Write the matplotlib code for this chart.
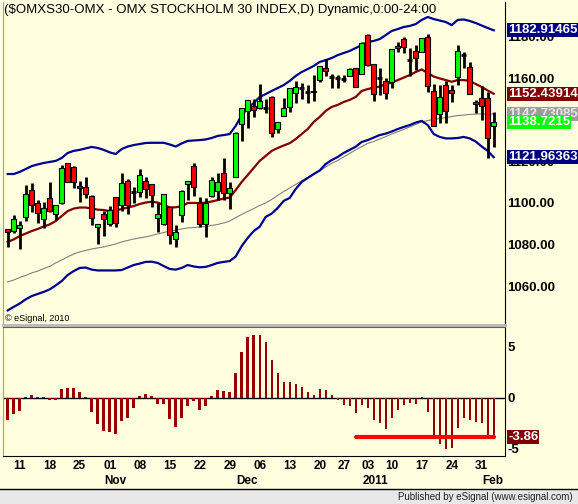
"""
OMXS30 günlük mum grafiği + Bollinger bantları + alt osilatör paneli (eSignal görünümü).
"""

import matplotlib

matplotlib.use("Agg")
import matplotlib.pyplot as plt
import matplotlib.transforms as mtransforms
from matplotlib.patches import Rectangle
import numpy as np

plt.rcParams["font.family"] = ["Liberation Sans", "DejaVu Sans"]

TITLE = "($OMXS30-OMX - OMX STOCKHOLM 30 INDEX,D) Dynamic,0:00-24:00"

# günlük barlar: 7 Eki 2010 - 2 Şub 2011
opens = [1087.3, 1086.7, 1088.0, 1093.4, 1106.2, 1099.9, 1092.2, 1102.3, 1094.7, 1100.2,
         1119.0, 1117.4, 1108.2, 1107.5, 1103.4, 1088.5, 1094.7, 1090.0, 1102.8, 1099.0,
         1110.6, 1105.4, 1105.4, 1110.7, 1109.1, 1093.0, 1089.9, 1097.9, 1082.7, 1094.2,
         1109.1, 1117.8, 1100.1, 1089.9, 1103.4, 1105.9, 1114.5, 1104.9, 1112.6, 1137.9,
         1144.3, 1146.7, 1145.5, 1145.5, 1150.7, 1135.4, 1141.8, 1146.2, 1152.7, 1155.0,
         1153.4, 1153.1, 1159.0, 1164.7, 1160.6, 1159.9, 1159.4, 1161.1, 1164.7, 1161.9,
         1180.6, 1166.6, 1159.9, 1158.6, 1158.2, 1175.5, 1178.7, 1168.6, 1173.1, 1172.6,
         1179.5, 1153.9, 1142.7, 1156.6, 1154.2, 1160.6, 1171.0, 1165.1, 1148.6, 1150.3,
         1150.3, 1137.0]
highs = [1087.5, 1094.2, 1091.5, 1108.6, 1109.5, 1101.5, 1100.6, 1109.9, 1098.9, 1118.2,
         1119.2, 1117.6, 1110.7, 1112.3, 1103.6, 1089.9, 1096.2, 1098.6, 1103.0, 1114.2,
         1111.4, 1107.8, 1116.2, 1112.3, 1109.3, 1099.9, 1104.5, 1098.1, 1089.5, 1106.0,
         1110.5, 1119.4, 1103.1, 1102.3, 1112.3, 1114.5, 1121.4, 1110.2, 1133.9, 1145.6,
         1149.6, 1149.9, 1157.0, 1149.8, 1151.4, 1138.8, 1150.2, 1155.4, 1158.7, 1157.7,
         1156.6, 1161.5, 1165.9, 1169.0, 1161.8, 1161.5, 1161.5, 1164.9, 1164.8, 1177.1,
         1181.1, 1166.7, 1164.7, 1159.9, 1174.0, 1177.4, 1179.5, 1174.3, 1175.8, 1179.2,
         1181.1, 1157.1, 1156.6, 1158.6, 1156.6, 1175.8, 1172.6, 1167.8, 1149.5, 1156.2,
         1153.4, 1143.8]
lows = [1078.7, 1085.5, 1077.8, 1091.5, 1095.8, 1090.3, 1087.9, 1095.5, 1091.9, 1099.5,
        1110.0, 1107.1, 1100.6, 1102.3, 1089.5, 1080.2, 1084.3, 1089.0, 1088.3, 1096.3,
        1094.6, 1099.9, 1103.0, 1102.3, 1097.9, 1086.2, 1089.5, 1080.3, 1078.7, 1091.0,
        1101.5, 1103.4, 1088.3, 1083.5, 1103.0, 1101.5, 1101.5, 1097.0, 1112.4, 1129.9,
        1135.8, 1141.1, 1145.0, 1143.1, 1131.5, 1133.7, 1141.6, 1143.8, 1147.9, 1149.8,
        1148.2, 1149.1, 1158.2, 1161.0, 1155.3, 1155.1, 1158.2, 1161.0, 1155.6, 1161.7,
        1166.0, 1149.1, 1151.9, 1149.8, 1155.1, 1172.6, 1171.9, 1161.0, 1163.8, 1172.4,
        1153.4, 1136.9, 1138.6, 1138.6, 1148.6, 1156.6, 1164.7, 1152.3, 1143.1, 1139.9,
        1121.5, 1127.0]
closes = [1086.2, 1092.2, 1089.6, 1104.2, 1099.0, 1095.1, 1097.5, 1096.3, 1098.9, 1116.7,
          1110.2, 1110.2, 1107.1, 1104.3, 1092.7, 1089.8, 1092.5, 1096.7, 1090.3, 1109.4,
          1099.0, 1105.4, 1113.5, 1106.6, 1103.9, 1094.6, 1104.3, 1084.6, 1086.2, 1105.9,
          1110.4, 1107.8, 1089.9, 1099.9, 1111.0, 1109.9, 1104.9, 1107.1, 1133.7, 1145.5,
          1149.5, 1144.6, 1149.0, 1145.5, 1133.7, 1138.7, 1145.8, 1155.3, 1155.8, 1155.0,
          1153.4, 1153.9, 1165.8, 1163.4, 1160.6, 1159.9, 1159.4, 1164.2, 1155.8, 1177.0,
          1166.2, 1152.2, 1159.9, 1153.0, 1173.9, 1174.3, 1174.7, 1168.6, 1169.5, 1179.1,
          1156.2, 1137.0, 1150.7, 1144.3, 1152.9, 1173.1, 1171.0, 1152.4, 1147.5, 1146.7,
          1131.1, 1138.7215]

bb_upper = [1113.9, 1113.9, 1114.9, 1116.3, 1117.7, 1118.5, 1119.2, 1119.7, 1120.2, 1121.6,
            1124.0, 1125.0, 1125.5, 1126.2, 1126.9, 1126.4, 1125.5, 1124.3, 1123.5, 1125.9,
            1127.1, 1127.8, 1128.3, 1128.8, 1128.9, 1128.9, 1128.9, 1128.1, 1127.1, 1128.6,
            1129.8, 1130.0, 1130.2, 1130.5, 1131.2, 1132.2, 1132.6, 1133.1, 1137.0, 1142.2,
            1145.6, 1148.0, 1150.9, 1152.3, 1153.8, 1155.2, 1156.6, 1158.6, 1161.0, 1162.9,
            1164.3, 1165.8, 1167.7, 1168.6, 1169.6, 1171.0, 1172.0, 1173.0, 1174.4, 1175.8,
            1177.3, 1177.8, 1178.7, 1180.6, 1182.6, 1183.5, 1184.5, 1185.0, 1185.9, 1187.9,
            1189.3, 1188.3, 1187.6, 1186.9, 1185.4, 1187.9, 1188.1, 1187.4, 1186.4, 1185.2,
            1184.0, 1182.91465]
bb_mid = [1081.3, 1082.5, 1084.1, 1085.3, 1086.5, 1087.5, 1088.7, 1089.7, 1091.3, 1093.7,
          1096.1, 1097.3, 1097.8, 1097.8, 1097.3, 1096.8, 1096.6, 1096.1, 1096.4, 1097.1,
          1097.8, 1098.5, 1099.5, 1100.2, 1100.6, 1100.2, 1099.0, 1097.9, 1097.9, 1098.5,
          1100.0, 1100.0, 1100.0, 1100.2, 1100.7, 1101.4, 1102.1, 1102.6, 1106.2, 1110.1,
          1113.4, 1116.8, 1120.2, 1122.6, 1125.0, 1126.4, 1127.6, 1128.7, 1130.7, 1133.1,
          1135.5, 1138.9, 1141.3, 1144.2, 1146.1, 1147.1, 1148.5, 1149.5, 1150.9, 1153.8,
          1154.7, 1155.4, 1155.9, 1157.1, 1157.8, 1159.0, 1160.2, 1161.4, 1162.9, 1164.1,
          1162.4, 1160.7, 1159.8, 1159.0, 1158.2, 1159.0, 1159.0, 1158.6, 1157.1, 1155.7,
          1154.0, 1152.43914]
bb_lower = [1048.4, 1050.1, 1051.7, 1053.7, 1055.3, 1056.3, 1057.3, 1058.5, 1060.4, 1062.5,
            1065.4, 1067.3, 1068.8, 1069.0, 1068.0, 1067.6, 1067.6, 1067.6, 1067.6, 1067.8,
            1069.0, 1070.2, 1070.9, 1071.7, 1071.8, 1071.2, 1069.7, 1068.3, 1068.0, 1068.8,
            1070.2, 1069.5, 1069.1, 1069.3, 1070.2, 1071.2, 1071.7, 1072.1, 1074.3, 1079.3,
            1083.2, 1086.5, 1088.6, 1093.3, 1094.9, 1097.6, 1101.0, 1102.4, 1106.7, 1110.1,
            1112.0, 1113.9, 1115.6, 1118.7, 1120.6, 1122.1, 1124.0, 1125.5, 1127.0, 1129.3,
            1130.2, 1131.4, 1132.6, 1133.3, 1134.3, 1135.5, 1136.5, 1137.4, 1138.6, 1139.4,
            1137.4, 1133.1, 1131.7, 1131.0, 1131.0, 1131.2, 1131.7, 1131.0, 1129.5, 1127.1,
            1125.0, 1121.96363]
ma_long = [1062.1, 1063.0, 1064.2, 1065.2, 1066.4, 1067.3, 1068.5, 1069.5, 1071.2, 1072.6,
           1074.1, 1075.5, 1076.5, 1077.2, 1077.9, 1078.4, 1078.9, 1079.6, 1080.3, 1081.3,
           1082.0, 1082.7, 1083.2, 1083.7, 1084.4, 1085.1, 1085.8, 1086.5, 1087.0, 1087.5,
           1088.0, 1088.2, 1088.5, 1088.7, 1089.2, 1089.7, 1090.4, 1091.3, 1093.0, 1094.5,
           1095.9, 1097.3, 1098.8, 1100.0, 1101.7, 1103.6, 1105.5, 1107.2, 1108.9, 1110.6,
           1112.2, 1113.7, 1115.3, 1117.3, 1119.0, 1120.4, 1122.1, 1123.8, 1125.5, 1127.1,
           1128.6, 1129.5, 1130.7, 1131.9, 1133.1, 1134.2, 1135.3, 1136.5, 1137.7, 1138.9,
           1139.6, 1140.1, 1140.6, 1141.0, 1141.5, 1142.0, 1142.2, 1142.5, 1142.7, 1142.7,
           1142.7, 1142.73085]

osc = [-2.19, -1.6, -1.27, 0.1, 0.26, 0.1, 0.07, -0.26, -0.26, 0.85,
       0.95, 0.95, 0.56, 0.1, -1.37, -2.55, -3.24, -3.33, -3.6, -2.25,
       -1.96, -1.05, 0.16, 0.36, 0.16, -0.65, -0.59, -2.12, -2.9, -1.96,
       -0.85, -0.33, -1.21, -0.78, 0.19, 0.75, 0.65, 0.56, 2.45, 4.48,
       5.95, 6.15, 6.15, 5.49, 3.73, 2.39, 1.54, 1.54, 1.34, 1.08,
       0.59, 0.26, 0.85, 0.75, 0.26, -0.26, -0.72, -0.78, -1.54, -0.72,
       -0.98, -2.19, -2.45, -3.1, -1.96, -1.21, -0.72, -0.49, -0.62, 0.1,
       -1.37, -3.82, -4.58, -5.06, -4.9, -2.94, -1.96, -2.19, -2.35, -2.45,
       -3.76, -3.86]
osc_level = -3.86
level_from, level_to = 58, 81

day_ticks = [2, 7, 12, 17, 22, 27, 32, 37, 42, 47, 52, 56, 60, 64, 69, 74, 79]
day_labels = ["11", "18", "25", "01", "08", "15", "22", "29", "06", "13", "20",
              "27", "03", "10", "17", "24", "31"]
month_ticks = [17, 39, 60, 80]
month_labels = ["Nov", "Dec", "2011", "Feb"]

price_ticks = [1060, 1080, 1100, 1120, 1140, 1160, 1180]
osc_ticks = [-5, 0, 5]

last_labels = ["1182.91465", "1152.43914", "1142.73085", "1138.7215", "1121.96363"]
last_values = [1182.91465, 1152.43914, 1142.73085, 1138.7215, 1121.96363]
last_colors = ["#000080", "#800000", "#9c9c9c", "#00ff00", "#000080"]
last_text = ["white", "white", "#e6e6e6", "white", "white"]

BG = "#ffffe0"
W, H = 578, 504


def px_rect(x0, y0, x1, y1):
    return [x0 / W, 1 - y1 / H, (x1 - x0) / W, (y1 - y0) / H]


fig = plt.figure(figsize=(W / 100, H / 100), dpi=100, facecolor=BG)
ax = fig.add_axes(px_rect(3, 2, 505, 325), facecolor=BG)
ax2 = fig.add_axes(px_rect(3, 327, 505, 456), facecolor=BG)

x = np.arange(len(closes))
o = np.array(opens)
c = np.array(closes)

# bantlar ve ortalamalar
ax.plot(x, ma_long, color="#808080", lw=0.8, zorder=1)
ax.plot(x, bb_upper, color="#000090", lw=1.6, zorder=1)
ax.plot(x, bb_lower, color="#000090", lw=1.6, zorder=1)
ax.plot(x, bb_mid, color="#800000", lw=1.6, zorder=1)

# mumlar
ax.vlines(x, lows, highs, color="black", lw=2.0, zorder=2)
up = c > o
dn = c < o
doji = c == o
ax.bar(x[up], (c - o)[up], bottom=o[up], width=0.75, color="#00ff00",
       edgecolor="black", linewidth=0.8, zorder=3)
ax.bar(x[dn], (c - o)[dn], bottom=o[dn], width=0.75, color="#ff0000",
       edgecolor="black", linewidth=0.8, zorder=3)
ax.hlines(c[doji], x[doji] - 0.4, x[doji] + 0.4, color="black", lw=2.0, zorder=3)

xlim = (-0.78, 82.88)
ax.set_xlim(*xlim)
ax.set_ylim(1041.4, 1196.5)
ax.set_xticks([])
ax.yaxis.tick_right()
ax.set_yticks(price_ticks, [f"{v:.2f}" for v in price_ticks])
ax.tick_params(axis="y", length=0, pad=1.5, labelsize=9.5)
for lab in ax.get_yticklabels():
    lab.set_fontweight("bold")
ax.spines["top"].set_visible(False)
ax.spines["left"].set_color("#a0a0a0")
ax.spines["bottom"].set_color("#b8b8b8")
ax.spines["bottom"].set_linewidth(2)
ax.spines["right"].set_color("black")

ytr = mtransforms.blended_transform_factory(ax.transAxes, ax.transData)
for lab, val, fc, tc in zip(last_labels, last_values, last_colors, last_text):
    ax.text(1.006, val, lab, transform=ytr, ha="left", va="center", fontsize=9.5,
            fontweight="bold", color=tc, clip_on=False, zorder=5,
            bbox=dict(boxstyle="square,pad=0.08", fc=fc, ec="none"))

ax.text(0.004, 0.02, "© eSignal, 2010", transform=ax.transAxes, fontsize=6.5,
        ha="left", va="center")
fig.text(4.5 / W, 1 - 10 / H, TITLE, fontsize=9.5, ha="left", va="center")

# alt panel: osilatör histogramı
ax2.bar(x, osc, width=0.4, color="#960000", zorder=2)
ax2.axhline(0, color="black", lw=1, zorder=1)
ax2.plot([level_from, level_to], [osc_level, osc_level], color="#ff0000", lw=3,
         solid_capstyle="round", zorder=3)
ax2.set_xlim(*xlim)
ax2.set_ylim(-5.72, 6.93)
ax2.yaxis.tick_right()
ax2.set_yticks(osc_ticks, [str(v) for v in osc_ticks])
ax2.tick_params(axis="y", length=0, pad=1.5, labelsize=9.5)
for lab in ax2.get_yticklabels():
    lab.set_fontweight("bold")
ax2.set_xticks(day_ticks, day_labels)
ax2.tick_params(axis="x", length=0, pad=3, labelsize=8.5)
for lab in ax2.get_xticklabels():
    lab.set_fontweight("bold")
ax2.spines["top"].set_color("#606060")
ax2.spines["left"].set_color("#a0a0a0")
ax2.spines["right"].set_color("black")
ax2.spines["bottom"].set_color("black")

ytr2 = mtransforms.blended_transform_factory(ax2.transAxes, ax2.transData)
ax2.text(1.006, osc_level, f"{osc_level:.2f}", transform=ytr2, ha="left", va="center",
         fontsize=9.5, fontweight="bold", color="white", clip_on=False, zorder=5,
         bbox=dict(boxstyle="square,pad=0.08", fc="#800000", ec="none"))

mtr = mtransforms.blended_transform_factory(ax2.transData, fig.transFigure)
for pos, lab in zip(month_ticks, month_labels):
    ax2.text(pos - 0.9, 1 - 481 / H, lab, transform=mtr, ha="left", va="center",
             fontsize=8.5, fontweight="bold", clip_on=False)

# alt durum çubuğu
fig.patches.append(Rectangle((0, 0), 1, 15 / H, transform=fig.transFigure,
                             facecolor="#e8e8e8", edgecolor="none", zorder=0))
fig.lines.append(plt.Line2D([0, 1], [15 / H, 15 / H], transform=fig.transFigure,
                            color="black", lw=1))
fig.text(573 / W, 7 / H, "Published by eSignal (www.esignal.com)", fontsize=7,
         ha="right", va="center", color="#202020")

fig.savefig("out.png", dpi=100, facecolor=BG)
plt.close(fig)
